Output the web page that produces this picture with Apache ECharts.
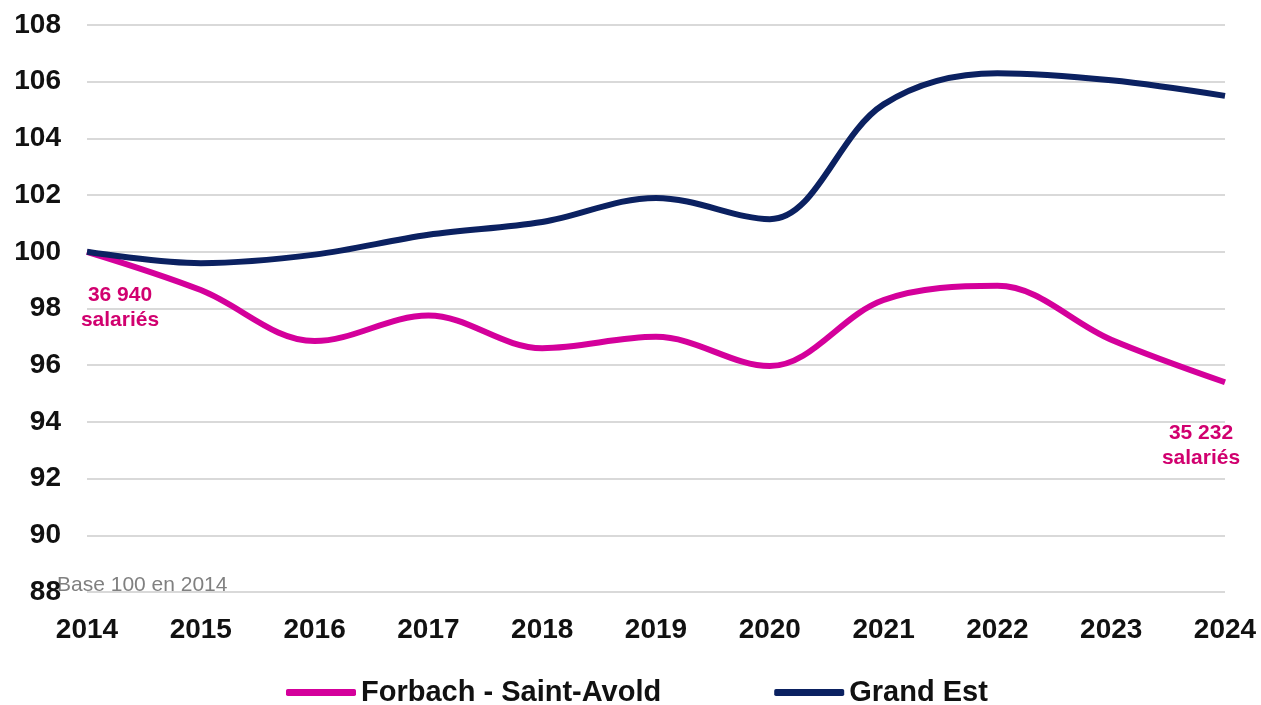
<!DOCTYPE html>
<html>
<head>
<meta charset="UTF-8">
<script src="https://cdn.jsdelivr.net/npm/echarts@6/dist/echarts.min.js"></script>
<style>
html, body { margin:0; padding:0; background:#fff; }
#chart { width:1261px; height:705px; }
</style>
</head>
<body><div id="chart"></div>
<script>
// data (base 100 in 2014)
const years = ['2014', '2015', '2016', '2017', '2018', '2019', '2020', '2021', '2022', '2023', '2024'];
const forbach = [100, 98.65, 96.85, 97.75, 96.6, 97.0, 95.97, 98.3, 98.8, 96.9, 95.4];
const grandEst = [100, 99.6, 99.9, 100.6, 101.05, 101.9, 101.15, 105.2, 106.3, 106.05, 105.5];
const startLabel = '36 940\nsalariés';
const endLabel = '35 232\nsalariés';

const PINK = '#d4009b';
const NAVY = '#0b2161';
const ANNOT = '#d1006f';
const FONT = '"Liberation Sans", Arial, sans-serif';

const c = echarts.init(document.getElementById('chart'));
c.setOption({
  animation: false,
  grid: { left: 87, right: 36, top: 25, bottom: 113 },
  legend: {
    left: 281, top: 673,
    icon: 'roundRect', itemWidth: 70, itemHeight: 7, itemGap: 113,
    textStyle: { fontFamily: FONT, fontSize: 29, fontWeight: 'bold', color: '#111' },
    data: ['Forbach - Saint-Avold', 'Grand Est']
  },
  xAxis: {
    type: 'category', data: years, boundaryGap: false,
    axisLine: { show: false }, axisTick: { show: false },
    axisLabel: { margin: 24, fontFamily: FONT, fontSize: 28, fontWeight: 'bold', color: '#111' }
  },
  yAxis: {
    type: 'value', min: 88, max: 108, interval: 2,
    axisLine: { show: false }, axisTick: { show: false },
    axisLabel: { margin: 26, fontFamily: FONT, fontSize: 28, fontWeight: 'bold', color: '#111' },
    splitLine: { lineStyle: { color: '#d9d9d9', width: 2 } }
  },
  graphic: [{
    type: 'text', left: 57, top: 575,
    style: { text: 'Base 100 en 2014', font: '21px ' + FONT, fill: '#808080' }
  }],
  series: [
    {
      name: 'Forbach - Saint-Avold', type: 'line', data: forbach,
      smooth: 0.35, showSymbol: false, symbol: 'none',
      lineStyle: { color: PINK, width: 6 }, itemStyle: { color: PINK },
      markPoint: {
        symbol: 'circle', symbolSize: 1,
        itemStyle: { color: 'rgba(0,0,0,0)' },
        label: {
          show: true, position: 'inside', color: ANNOT, fontFamily: FONT,
          fontSize: 21, fontWeight: 'bold', lineHeight: 25, align: 'center'
        },
        data: [
          { coord: [years[0], forbach[0]], value: startLabel, label: { formatter: startLabel, offset: [33, 56] } },
          { coord: [years[years.length - 1], forbach[forbach.length - 1]], value: endLabel, label: { formatter: endLabel, offset: [-24, 63] } }
        ]
      }
    },
    {
      name: 'Grand Est', type: 'line', data: grandEst,
      smooth: 0.35, showSymbol: false, symbol: 'none',
      lineStyle: { color: NAVY, width: 6 }, itemStyle: { color: NAVY }
    }
  ]
});
</script>
</body></html>
